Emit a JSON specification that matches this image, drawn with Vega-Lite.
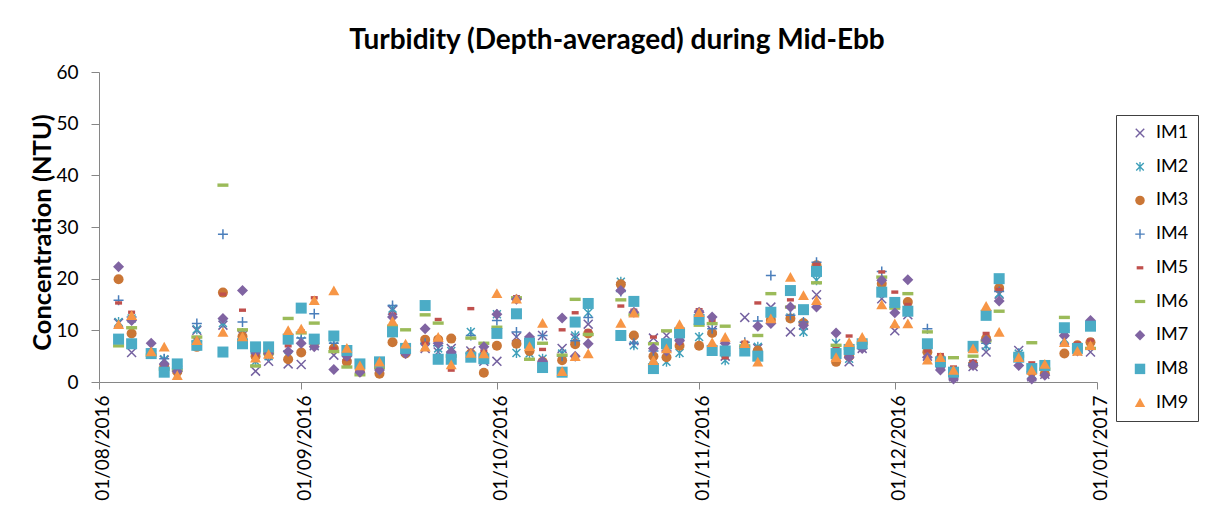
{
"$schema": "https://vega.github.io/schema/vega-lite/v6.json",
"width": 998, "height": 310,
"autosize": "none",
"padding": {"left": 99, "top": 72, "right": 128, "bottom": 127},
"background": "white",
"title": {"text": "Turbidity (Depth-averaged) during Mid-Ebb", "font": "Lato", "fontSize": 28, "fontWeight": "bold", "color": "#000000", "anchor": "middle", "frame": "group", "dx": 19, "dy": 41, "offset": 21, "baseline": "bottom"},
"config": {"view": {"stroke": null}, "font": "Lato"},
"data": {"values": [
{"date":"2016-08-04","site":"IM1","ntu":11.4},{"date":"2016-08-06","site":"IM1","ntu":5.7},{"date":"2016-08-09","site":"IM1","ntu":5.4},{"date":"2016-08-11","site":"IM1","ntu":4.2},{"date":"2016-08-13","site":"IM1","ntu":2.5},{"date":"2016-08-16","site":"IM1","ntu":10.0},{"date":"2016-08-20","site":"IM1","ntu":11.0},{"date":"2016-08-23","site":"IM1","ntu":9.0},{"date":"2016-08-25","site":"IM1","ntu":2.1},{"date":"2016-08-27","site":"IM1","ntu":4.0},{"date":"2016-08-30","site":"IM1","ntu":3.5},{"date":"2016-09-01","site":"IM1","ntu":3.4},{"date":"2016-09-03","site":"IM1","ntu":7.0},{"date":"2016-09-06","site":"IM1","ntu":5.2},{"date":"2016-09-08","site":"IM1","ntu":5.0},{"date":"2016-09-10","site":"IM1","ntu":2.5},{"date":"2016-09-13","site":"IM1","ntu":2.5},{"date":"2016-09-15","site":"IM1","ntu":13.9},{"date":"2016-09-17","site":"IM1","ntu":6.0},{"date":"2016-09-20","site":"IM1","ntu":6.5},{"date":"2016-09-22","site":"IM1","ntu":5.8},{"date":"2016-09-24","site":"IM1","ntu":6.5},{"date":"2016-09-27","site":"IM1","ntu":6.0},{"date":"2016-09-29","site":"IM1","ntu":4.0},{"date":"2016-10-01","site":"IM1","ntu":4.0},{"date":"2016-10-04","site":"IM1","ntu":8.7},{"date":"2016-10-06","site":"IM1","ntu":8.0},{"date":"2016-10-08","site":"IM1","ntu":9.0},{"date":"2016-10-11","site":"IM1","ntu":6.5},{"date":"2016-10-13","site":"IM1","ntu":8.5},{"date":"2016-10-15","site":"IM1","ntu":11.2},{"date":"2016-10-20","site":"IM1","ntu":18.5},{"date":"2016-10-22","site":"IM1","ntu":8.0},{"date":"2016-10-25","site":"IM1","ntu":8.5},{"date":"2016-10-27","site":"IM1","ntu":9.0},{"date":"2016-10-29","site":"IM1","ntu":9.0},{"date":"2016-11-01","site":"IM1","ntu":13.0},{"date":"2016-11-03","site":"IM1","ntu":10.0},{"date":"2016-11-05","site":"IM1","ntu":5.0},{"date":"2016-11-08","site":"IM1","ntu":12.5},{"date":"2016-11-10","site":"IM1","ntu":6.5},{"date":"2016-11-12","site":"IM1","ntu":14.5},{"date":"2016-11-15","site":"IM1","ntu":9.7},{"date":"2016-11-17","site":"IM1","ntu":11.0},{"date":"2016-11-19","site":"IM1","ntu":16.9},{"date":"2016-11-22","site":"IM1","ntu":5.5},{"date":"2016-11-24","site":"IM1","ntu":3.9},{"date":"2016-11-26","site":"IM1","ntu":6.5},{"date":"2016-11-29","site":"IM1","ntu":16.1},{"date":"2016-12-01","site":"IM1","ntu":9.9},{"date":"2016-12-03","site":"IM1","ntu":13.0},{"date":"2016-12-06","site":"IM1","ntu":5.0},{"date":"2016-12-08","site":"IM1","ntu":3.5},{"date":"2016-12-10","site":"IM1","ntu":1.0},{"date":"2016-12-13","site":"IM1","ntu":3.0},{"date":"2016-12-15","site":"IM1","ntu":5.8},{"date":"2016-12-17","site":"IM1","ntu":17.0},{"date":"2016-12-20","site":"IM1","ntu":6.1},{"date":"2016-12-22","site":"IM1","ntu":1.0},{"date":"2016-12-24","site":"IM1","ntu":1.5},{"date":"2016-12-27","site":"IM1","ntu":8.1},{"date":"2016-12-29","site":"IM1","ntu":6.0},{"date":"2016-12-31","site":"IM1","ntu":5.8},
{"date":"2016-08-04","site":"IM2","ntu":11.6},{"date":"2016-08-06","site":"IM2","ntu":12.3},{"date":"2016-08-09","site":"IM2","ntu":5.6},{"date":"2016-08-11","site":"IM2","ntu":4.4},{"date":"2016-08-13","site":"IM2","ntu":3.0},{"date":"2016-08-16","site":"IM2","ntu":10.2},{"date":"2016-08-20","site":"IM2","ntu":11.4},{"date":"2016-08-23","site":"IM2","ntu":9.5},{"date":"2016-08-25","site":"IM2","ntu":4.0},{"date":"2016-08-27","site":"IM2","ntu":5.0},{"date":"2016-08-30","site":"IM2","ntu":5.0},{"date":"2016-09-01","site":"IM2","ntu":8.0},{"date":"2016-09-03","site":"IM2","ntu":7.2},{"date":"2016-09-06","site":"IM2","ntu":7.0},{"date":"2016-09-08","site":"IM2","ntu":5.5},{"date":"2016-09-10","site":"IM2","ntu":3.0},{"date":"2016-09-13","site":"IM2","ntu":3.0},{"date":"2016-09-15","site":"IM2","ntu":14.2},{"date":"2016-09-17","site":"IM2","ntu":6.5},{"date":"2016-09-20","site":"IM2","ntu":7.0},{"date":"2016-09-22","site":"IM2","ntu":6.5},{"date":"2016-09-24","site":"IM2","ntu":6.0},{"date":"2016-09-27","site":"IM2","ntu":9.7},{"date":"2016-09-29","site":"IM2","ntu":5.0},{"date":"2016-10-01","site":"IM2","ntu":13.1},{"date":"2016-10-04","site":"IM2","ntu":5.6},{"date":"2016-10-06","site":"IM2","ntu":5.5},{"date":"2016-10-08","site":"IM2","ntu":4.5},{"date":"2016-10-11","site":"IM2","ntu":5.5},{"date":"2016-10-13","site":"IM2","ntu":9.0},{"date":"2016-10-15","site":"IM2","ntu":13.4},{"date":"2016-10-20","site":"IM2","ntu":19.4},{"date":"2016-10-22","site":"IM2","ntu":7.1},{"date":"2016-10-25","site":"IM2","ntu":4.5},{"date":"2016-10-27","site":"IM2","ntu":3.9},{"date":"2016-10-29","site":"IM2","ntu":5.6},{"date":"2016-11-01","site":"IM2","ntu":8.7},{"date":"2016-11-03","site":"IM2","ntu":6.5},{"date":"2016-11-05","site":"IM2","ntu":4.2},{"date":"2016-11-08","site":"IM2","ntu":7.0},{"date":"2016-11-10","site":"IM2","ntu":6.8},{"date":"2016-11-12","site":"IM2","ntu":13.0},{"date":"2016-11-15","site":"IM2","ntu":12.5},{"date":"2016-11-17","site":"IM2","ntu":9.7},{"date":"2016-11-19","site":"IM2","ntu":19.7},{"date":"2016-11-22","site":"IM2","ntu":7.5},{"date":"2016-11-24","site":"IM2","ntu":4.5},{"date":"2016-11-26","site":"IM2","ntu":7.0},{"date":"2016-11-29","site":"IM2","ntu":18.0},{"date":"2016-12-01","site":"IM2","ntu":15.0},{"date":"2016-12-03","site":"IM2","ntu":14.0},{"date":"2016-12-06","site":"IM2","ntu":5.5},{"date":"2016-12-08","site":"IM2","ntu":4.0},{"date":"2016-12-10","site":"IM2","ntu":1.5},{"date":"2016-12-13","site":"IM2","ntu":3.5},{"date":"2016-12-15","site":"IM2","ntu":7.0},{"date":"2016-12-17","site":"IM2","ntu":17.1},{"date":"2016-12-20","site":"IM2","ntu":5.5},{"date":"2016-12-22","site":"IM2","ntu":1.5},{"date":"2016-12-24","site":"IM2","ntu":2.0},{"date":"2016-12-27","site":"IM2","ntu":8.3},{"date":"2016-12-29","site":"IM2","ntu":6.5},{"date":"2016-12-31","site":"IM2","ntu":11.0},
{"date":"2016-08-04","site":"IM3","ntu":19.9},{"date":"2016-08-06","site":"IM3","ntu":9.4},{"date":"2016-08-09","site":"IM3","ntu":5.5},{"date":"2016-08-11","site":"IM3","ntu":3.0},{"date":"2016-08-13","site":"IM3","ntu":2.0},{"date":"2016-08-16","site":"IM3","ntu":6.8},{"date":"2016-08-20","site":"IM3","ntu":17.3},{"date":"2016-08-23","site":"IM3","ntu":8.8},{"date":"2016-08-25","site":"IM3","ntu":5.0},{"date":"2016-08-27","site":"IM3","ntu":5.5},{"date":"2016-08-30","site":"IM3","ntu":4.4},{"date":"2016-09-01","site":"IM3","ntu":5.7},{"date":"2016-09-03","site":"IM3","ntu":7.5},{"date":"2016-09-06","site":"IM3","ntu":6.5},{"date":"2016-09-08","site":"IM3","ntu":3.9},{"date":"2016-09-10","site":"IM3","ntu":2.0},{"date":"2016-09-13","site":"IM3","ntu":1.6},{"date":"2016-09-15","site":"IM3","ntu":7.7},{"date":"2016-09-17","site":"IM3","ntu":5.5},{"date":"2016-09-20","site":"IM3","ntu":8.2},{"date":"2016-09-22","site":"IM3","ntu":8.2},{"date":"2016-09-24","site":"IM3","ntu":8.4},{"date":"2016-09-27","site":"IM3","ntu":5.5},{"date":"2016-09-29","site":"IM3","ntu":1.8},{"date":"2016-10-01","site":"IM3","ntu":7.0},{"date":"2016-10-04","site":"IM3","ntu":7.4},{"date":"2016-10-06","site":"IM3","ntu":6.0},{"date":"2016-10-08","site":"IM3","ntu":3.9},{"date":"2016-10-11","site":"IM3","ntu":4.2},{"date":"2016-10-13","site":"IM3","ntu":7.3},{"date":"2016-10-15","site":"IM3","ntu":9.4},{"date":"2016-10-20","site":"IM3","ntu":18.9},{"date":"2016-10-22","site":"IM3","ntu":9.0},{"date":"2016-10-25","site":"IM3","ntu":5.0},{"date":"2016-10-27","site":"IM3","ntu":4.8},{"date":"2016-10-29","site":"IM3","ntu":7.0},{"date":"2016-11-01","site":"IM3","ntu":7.0},{"date":"2016-11-03","site":"IM3","ntu":9.5},{"date":"2016-11-05","site":"IM3","ntu":6.0},{"date":"2016-11-08","site":"IM3","ntu":6.5},{"date":"2016-11-10","site":"IM3","ntu":6.1},{"date":"2016-11-12","site":"IM3","ntu":12.0},{"date":"2016-11-15","site":"IM3","ntu":12.3},{"date":"2016-11-17","site":"IM3","ntu":11.4},{"date":"2016-11-19","site":"IM3","ntu":22.6},{"date":"2016-11-22","site":"IM3","ntu":3.9},{"date":"2016-11-24","site":"IM3","ntu":5.0},{"date":"2016-11-26","site":"IM3","ntu":7.0},{"date":"2016-11-29","site":"IM3","ntu":19.0},{"date":"2016-12-01","site":"IM3","ntu":15.0},{"date":"2016-12-03","site":"IM3","ntu":15.5},{"date":"2016-12-06","site":"IM3","ntu":5.8},{"date":"2016-12-08","site":"IM3","ntu":4.5},{"date":"2016-12-10","site":"IM3","ntu":1.2},{"date":"2016-12-13","site":"IM3","ntu":3.4},{"date":"2016-12-15","site":"IM3","ntu":8.4},{"date":"2016-12-17","site":"IM3","ntu":18.2},{"date":"2016-12-20","site":"IM3","ntu":5.0},{"date":"2016-12-22","site":"IM3","ntu":2.0},{"date":"2016-12-24","site":"IM3","ntu":1.6},{"date":"2016-12-27","site":"IM3","ntu":5.5},{"date":"2016-12-29","site":"IM3","ntu":7.1},{"date":"2016-12-31","site":"IM3","ntu":7.7},
{"date":"2016-08-04","site":"IM4","ntu":15.8},{"date":"2016-08-06","site":"IM4","ntu":12.6},{"date":"2016-08-09","site":"IM4","ntu":6.0},{"date":"2016-08-11","site":"IM4","ntu":4.5},{"date":"2016-08-13","site":"IM4","ntu":3.0},{"date":"2016-08-16","site":"IM4","ntu":11.3},{"date":"2016-08-20","site":"IM4","ntu":28.6},{"date":"2016-08-23","site":"IM4","ntu":11.6},{"date":"2016-08-25","site":"IM4","ntu":5.5},{"date":"2016-08-27","site":"IM4","ntu":6.0},{"date":"2016-08-30","site":"IM4","ntu":6.0},{"date":"2016-09-01","site":"IM4","ntu":8.5},{"date":"2016-09-03","site":"IM4","ntu":13.2},{"date":"2016-09-06","site":"IM4","ntu":7.5},{"date":"2016-09-08","site":"IM4","ntu":5.5},{"date":"2016-09-10","site":"IM4","ntu":3.0},{"date":"2016-09-13","site":"IM4","ntu":3.0},{"date":"2016-09-15","site":"IM4","ntu":14.8},{"date":"2016-09-17","site":"IM4","ntu":6.5},{"date":"2016-09-20","site":"IM4","ntu":7.5},{"date":"2016-09-22","site":"IM4","ntu":7.0},{"date":"2016-09-24","site":"IM4","ntu":5.5},{"date":"2016-09-27","site":"IM4","ntu":9.0},{"date":"2016-09-29","site":"IM4","ntu":5.0},{"date":"2016-10-01","site":"IM4","ntu":11.9},{"date":"2016-10-04","site":"IM4","ntu":9.7},{"date":"2016-10-06","site":"IM4","ntu":7.0},{"date":"2016-10-08","site":"IM4","ntu":9.0},{"date":"2016-10-11","site":"IM4","ntu":5.0},{"date":"2016-10-13","site":"IM4","ntu":8.0},{"date":"2016-10-15","site":"IM4","ntu":12.5},{"date":"2016-10-20","site":"IM4","ntu":17.5},{"date":"2016-10-22","site":"IM4","ntu":7.5},{"date":"2016-10-25","site":"IM4","ntu":6.0},{"date":"2016-10-27","site":"IM4","ntu":7.0},{"date":"2016-10-29","site":"IM4","ntu":9.0},{"date":"2016-11-01","site":"IM4","ntu":12.5},{"date":"2016-11-03","site":"IM4","ntu":10.3},{"date":"2016-11-05","site":"IM4","ntu":5.5},{"date":"2016-11-08","site":"IM4","ntu":7.7},{"date":"2016-11-10","site":"IM4","ntu":11.8},{"date":"2016-11-12","site":"IM4","ntu":20.6},{"date":"2016-11-15","site":"IM4","ntu":12.9},{"date":"2016-11-17","site":"IM4","ntu":11.6},{"date":"2016-11-19","site":"IM4","ntu":23.2},{"date":"2016-11-22","site":"IM4","ntu":7.0},{"date":"2016-11-24","site":"IM4","ntu":5.5},{"date":"2016-11-26","site":"IM4","ntu":7.5},{"date":"2016-11-29","site":"IM4","ntu":21.4},{"date":"2016-12-01","site":"IM4","ntu":15.0},{"date":"2016-12-03","site":"IM4","ntu":14.0},{"date":"2016-12-06","site":"IM4","ntu":10.3},{"date":"2016-12-08","site":"IM4","ntu":4.5},{"date":"2016-12-10","site":"IM4","ntu":2.0},{"date":"2016-12-13","site":"IM4","ntu":3.5},{"date":"2016-12-15","site":"IM4","ntu":7.5},{"date":"2016-12-17","site":"IM4","ntu":17.5},{"date":"2016-12-20","site":"IM4","ntu":5.5},{"date":"2016-12-22","site":"IM4","ntu":2.0},{"date":"2016-12-24","site":"IM4","ntu":2.5},{"date":"2016-12-27","site":"IM4","ntu":10.0},{"date":"2016-12-29","site":"IM4","ntu":6.5},{"date":"2016-12-31","site":"IM4","ntu":11.5},
{"date":"2016-08-04","site":"IM5","ntu":15.3},{"date":"2016-08-06","site":"IM5","ntu":13.5},{"date":"2016-08-09","site":"IM5","ntu":6.2},{"date":"2016-08-11","site":"IM5","ntu":2.9},{"date":"2016-08-13","site":"IM5","ntu":2.6},{"date":"2016-08-16","site":"IM5","ntu":8.6},{"date":"2016-08-20","site":"IM5","ntu":17.0},{"date":"2016-08-23","site":"IM5","ntu":13.9},{"date":"2016-08-25","site":"IM5","ntu":5.2},{"date":"2016-08-27","site":"IM5","ntu":6.0},{"date":"2016-08-30","site":"IM5","ntu":7.0},{"date":"2016-09-01","site":"IM5","ntu":9.9},{"date":"2016-09-03","site":"IM5","ntu":16.3},{"date":"2016-09-06","site":"IM5","ntu":6.5},{"date":"2016-09-08","site":"IM5","ntu":4.4},{"date":"2016-09-10","site":"IM5","ntu":2.5},{"date":"2016-09-13","site":"IM5","ntu":2.5},{"date":"2016-09-15","site":"IM5","ntu":13.1},{"date":"2016-09-17","site":"IM5","ntu":6.5},{"date":"2016-09-20","site":"IM5","ntu":7.5},{"date":"2016-09-22","site":"IM5","ntu":12.1},{"date":"2016-09-24","site":"IM5","ntu":2.3},{"date":"2016-09-27","site":"IM5","ntu":14.2},{"date":"2016-09-29","site":"IM5","ntu":6.0},{"date":"2016-10-01","site":"IM5","ntu":10.0},{"date":"2016-10-04","site":"IM5","ntu":16.5},{"date":"2016-10-06","site":"IM5","ntu":7.5},{"date":"2016-10-08","site":"IM5","ntu":6.3},{"date":"2016-10-11","site":"IM5","ntu":10.1},{"date":"2016-10-13","site":"IM5","ntu":13.4},{"date":"2016-10-15","site":"IM5","ntu":9.9},{"date":"2016-10-20","site":"IM5","ntu":14.7},{"date":"2016-10-22","site":"IM5","ntu":13.9},{"date":"2016-10-25","site":"IM5","ntu":8.7},{"date":"2016-10-27","site":"IM5","ntu":6.5},{"date":"2016-10-29","site":"IM5","ntu":7.5},{"date":"2016-11-01","site":"IM5","ntu":14.0},{"date":"2016-11-03","site":"IM5","ntu":11.9},{"date":"2016-11-05","site":"IM5","ntu":4.7},{"date":"2016-11-08","site":"IM5","ntu":7.7},{"date":"2016-11-10","site":"IM5","ntu":15.3},{"date":"2016-11-12","site":"IM5","ntu":13.0},{"date":"2016-11-15","site":"IM5","ntu":15.9},{"date":"2016-11-17","site":"IM5","ntu":13.5},{"date":"2016-11-19","site":"IM5","ntu":22.8},{"date":"2016-11-22","site":"IM5","ntu":6.5},{"date":"2016-11-24","site":"IM5","ntu":8.9},{"date":"2016-11-26","site":"IM5","ntu":7.5},{"date":"2016-11-29","site":"IM5","ntu":21.3},{"date":"2016-12-01","site":"IM5","ntu":17.4},{"date":"2016-12-03","site":"IM5","ntu":15.0},{"date":"2016-12-06","site":"IM5","ntu":6.0},{"date":"2016-12-08","site":"IM5","ntu":5.3},{"date":"2016-12-10","site":"IM5","ntu":2.9},{"date":"2016-12-13","site":"IM5","ntu":4.0},{"date":"2016-12-15","site":"IM5","ntu":9.4},{"date":"2016-12-17","site":"IM5","ntu":17.9},{"date":"2016-12-20","site":"IM5","ntu":5.5},{"date":"2016-12-22","site":"IM5","ntu":3.7},{"date":"2016-12-24","site":"IM5","ntu":3.0},{"date":"2016-12-27","site":"IM5","ntu":9.2},{"date":"2016-12-29","site":"IM5","ntu":7.5},{"date":"2016-12-31","site":"IM5","ntu":8.1},
{"date":"2016-08-04","site":"IM6","ntu":7.0},{"date":"2016-08-06","site":"IM6","ntu":10.5},{"date":"2016-08-09","site":"IM6","ntu":5.2},{"date":"2016-08-11","site":"IM6","ntu":2.5},{"date":"2016-08-13","site":"IM6","ntu":2.3},{"date":"2016-08-16","site":"IM6","ntu":8.7},{"date":"2016-08-20","site":"IM6","ntu":38.1},{"date":"2016-08-23","site":"IM6","ntu":10.1},{"date":"2016-08-25","site":"IM6","ntu":3.1},{"date":"2016-08-27","site":"IM6","ntu":5.5},{"date":"2016-08-30","site":"IM6","ntu":12.3},{"date":"2016-09-01","site":"IM6","ntu":9.5},{"date":"2016-09-03","site":"IM6","ntu":11.4},{"date":"2016-09-06","site":"IM6","ntu":5.9},{"date":"2016-09-08","site":"IM6","ntu":2.9},{"date":"2016-09-10","site":"IM6","ntu":1.4},{"date":"2016-09-13","site":"IM6","ntu":2.8},{"date":"2016-09-15","site":"IM6","ntu":10.8},{"date":"2016-09-17","site":"IM6","ntu":10.1},{"date":"2016-09-20","site":"IM6","ntu":13.0},{"date":"2016-09-22","site":"IM6","ntu":11.4},{"date":"2016-09-24","site":"IM6","ntu":5.0},{"date":"2016-09-27","site":"IM6","ntu":8.5},{"date":"2016-09-29","site":"IM6","ntu":7.5},{"date":"2016-10-01","site":"IM6","ntu":10.6},{"date":"2016-10-04","site":"IM6","ntu":16.3},{"date":"2016-10-06","site":"IM6","ntu":4.4},{"date":"2016-10-08","site":"IM6","ntu":7.5},{"date":"2016-10-11","site":"IM6","ntu":5.2},{"date":"2016-10-13","site":"IM6","ntu":16.0},{"date":"2016-10-15","site":"IM6","ntu":9.2},{"date":"2016-10-20","site":"IM6","ntu":15.9},{"date":"2016-10-22","site":"IM6","ntu":13.0},{"date":"2016-10-25","site":"IM6","ntu":7.4},{"date":"2016-10-27","site":"IM6","ntu":9.9},{"date":"2016-10-29","site":"IM6","ntu":10.0},{"date":"2016-11-01","site":"IM6","ntu":11.0},{"date":"2016-11-03","site":"IM6","ntu":11.3},{"date":"2016-11-05","site":"IM6","ntu":10.8},{"date":"2016-11-08","site":"IM6","ntu":7.0},{"date":"2016-11-10","site":"IM6","ntu":9.0},{"date":"2016-11-12","site":"IM6","ntu":17.1},{"date":"2016-11-15","site":"IM6","ntu":14.5},{"date":"2016-11-17","site":"IM6","ntu":14.0},{"date":"2016-11-19","site":"IM6","ntu":19.2},{"date":"2016-11-22","site":"IM6","ntu":7.1},{"date":"2016-11-24","site":"IM6","ntu":6.5},{"date":"2016-11-26","site":"IM6","ntu":7.5},{"date":"2016-11-29","site":"IM6","ntu":20.3},{"date":"2016-12-01","site":"IM6","ntu":14.3},{"date":"2016-12-03","site":"IM6","ntu":17.1},{"date":"2016-12-06","site":"IM6","ntu":9.7},{"date":"2016-12-08","site":"IM6","ntu":4.0},{"date":"2016-12-10","site":"IM6","ntu":4.7},{"date":"2016-12-13","site":"IM6","ntu":5.0},{"date":"2016-12-15","site":"IM6","ntu":8.0},{"date":"2016-12-17","site":"IM6","ntu":13.7},{"date":"2016-12-20","site":"IM6","ntu":5.0},{"date":"2016-12-22","site":"IM6","ntu":7.6},{"date":"2016-12-24","site":"IM6","ntu":2.5},{"date":"2016-12-27","site":"IM6","ntu":12.5},{"date":"2016-12-29","site":"IM6","ntu":6.5},{"date":"2016-12-31","site":"IM6","ntu":6.5},
{"date":"2016-08-04","site":"IM7","ntu":22.3},{"date":"2016-08-06","site":"IM7","ntu":11.9},{"date":"2016-08-09","site":"IM7","ntu":7.5},{"date":"2016-08-11","site":"IM7","ntu":3.5},{"date":"2016-08-13","site":"IM7","ntu":2.1},{"date":"2016-08-16","site":"IM7","ntu":7.8},{"date":"2016-08-20","site":"IM7","ntu":12.3},{"date":"2016-08-23","site":"IM7","ntu":17.7},{"date":"2016-08-25","site":"IM7","ntu":5.8},{"date":"2016-08-27","site":"IM7","ntu":5.5},{"date":"2016-08-30","site":"IM7","ntu":5.9},{"date":"2016-09-01","site":"IM7","ntu":7.5},{"date":"2016-09-03","site":"IM7","ntu":6.8},{"date":"2016-09-06","site":"IM7","ntu":2.4},{"date":"2016-09-08","site":"IM7","ntu":5.0},{"date":"2016-09-10","site":"IM7","ntu":1.9},{"date":"2016-09-13","site":"IM7","ntu":2.3},{"date":"2016-09-15","site":"IM7","ntu":12.6},{"date":"2016-09-17","site":"IM7","ntu":5.5},{"date":"2016-09-20","site":"IM7","ntu":10.3},{"date":"2016-09-22","site":"IM7","ntu":7.5},{"date":"2016-09-24","site":"IM7","ntu":5.8},{"date":"2016-09-27","site":"IM7","ntu":5.5},{"date":"2016-09-29","site":"IM7","ntu":6.8},{"date":"2016-10-01","site":"IM7","ntu":13.1},{"date":"2016-10-04","site":"IM7","ntu":16.0},{"date":"2016-10-06","site":"IM7","ntu":8.7},{"date":"2016-10-08","site":"IM7","ntu":4.0},{"date":"2016-10-11","site":"IM7","ntu":12.4},{"date":"2016-10-13","site":"IM7","ntu":5.0},{"date":"2016-10-15","site":"IM7","ntu":7.4},{"date":"2016-10-20","site":"IM7","ntu":17.7},{"date":"2016-10-22","site":"IM7","ntu":13.5},{"date":"2016-10-25","site":"IM7","ntu":6.5},{"date":"2016-10-27","site":"IM7","ntu":6.0},{"date":"2016-10-29","site":"IM7","ntu":8.0},{"date":"2016-11-01","site":"IM7","ntu":13.5},{"date":"2016-11-03","site":"IM7","ntu":12.6},{"date":"2016-11-05","site":"IM7","ntu":7.5},{"date":"2016-11-08","site":"IM7","ntu":6.5},{"date":"2016-11-10","site":"IM7","ntu":10.8},{"date":"2016-11-12","site":"IM7","ntu":11.3},{"date":"2016-11-15","site":"IM7","ntu":14.5},{"date":"2016-11-17","site":"IM7","ntu":11.0},{"date":"2016-11-19","site":"IM7","ntu":14.5},{"date":"2016-11-22","site":"IM7","ntu":9.5},{"date":"2016-11-24","site":"IM7","ntu":4.8},{"date":"2016-11-26","site":"IM7","ntu":6.5},{"date":"2016-11-29","site":"IM7","ntu":19.7},{"date":"2016-12-01","site":"IM7","ntu":13.4},{"date":"2016-12-03","site":"IM7","ntu":19.8},{"date":"2016-12-06","site":"IM7","ntu":4.8},{"date":"2016-12-08","site":"IM7","ntu":2.3},{"date":"2016-12-10","site":"IM7","ntu":0.6},{"date":"2016-12-13","site":"IM7","ntu":3.2},{"date":"2016-12-15","site":"IM7","ntu":8.1},{"date":"2016-12-17","site":"IM7","ntu":15.7},{"date":"2016-12-20","site":"IM7","ntu":3.2},{"date":"2016-12-22","site":"IM7","ntu":0.6},{"date":"2016-12-24","site":"IM7","ntu":1.3},{"date":"2016-12-27","site":"IM7","ntu":9.0},{"date":"2016-12-29","site":"IM7","ntu":6.0},{"date":"2016-12-31","site":"IM7","ntu":11.9},
{"date":"2016-08-04","site":"IM8","ntu":8.3},{"date":"2016-08-06","site":"IM8","ntu":7.4},{"date":"2016-08-09","site":"IM8","ntu":5.5},{"date":"2016-08-11","site":"IM8","ntu":1.9},{"date":"2016-08-13","site":"IM8","ntu":3.5},{"date":"2016-08-16","site":"IM8","ntu":7.1},{"date":"2016-08-20","site":"IM8","ntu":5.8},{"date":"2016-08-23","site":"IM8","ntu":7.4},{"date":"2016-08-25","site":"IM8","ntu":6.8},{"date":"2016-08-27","site":"IM8","ntu":6.8},{"date":"2016-08-30","site":"IM8","ntu":8.3},{"date":"2016-09-01","site":"IM8","ntu":14.3},{"date":"2016-09-03","site":"IM8","ntu":8.3},{"date":"2016-09-06","site":"IM8","ntu":8.9},{"date":"2016-09-08","site":"IM8","ntu":6.1},{"date":"2016-09-10","site":"IM8","ntu":3.5},{"date":"2016-09-13","site":"IM8","ntu":3.9},{"date":"2016-09-15","site":"IM8","ntu":9.7},{"date":"2016-09-17","site":"IM8","ntu":6.5},{"date":"2016-09-20","site":"IM8","ntu":14.8},{"date":"2016-09-22","site":"IM8","ntu":4.4},{"date":"2016-09-24","site":"IM8","ntu":4.4},{"date":"2016-09-27","site":"IM8","ntu":4.8},{"date":"2016-09-29","site":"IM8","ntu":4.5},{"date":"2016-10-01","site":"IM8","ntu":9.4},{"date":"2016-10-04","site":"IM8","ntu":13.2},{"date":"2016-10-06","site":"IM8","ntu":7.5},{"date":"2016-10-08","site":"IM8","ntu":2.8},{"date":"2016-10-11","site":"IM8","ntu":1.9},{"date":"2016-10-13","site":"IM8","ntu":11.6},{"date":"2016-10-15","site":"IM8","ntu":15.2},{"date":"2016-10-20","site":"IM8","ntu":9.0},{"date":"2016-10-22","site":"IM8","ntu":15.6},{"date":"2016-10-25","site":"IM8","ntu":2.6},{"date":"2016-10-27","site":"IM8","ntu":7.4},{"date":"2016-10-29","site":"IM8","ntu":9.5},{"date":"2016-11-01","site":"IM8","ntu":12.1},{"date":"2016-11-03","site":"IM8","ntu":6.1},{"date":"2016-11-05","site":"IM8","ntu":6.0},{"date":"2016-11-08","site":"IM8","ntu":6.0},{"date":"2016-11-10","site":"IM8","ntu":5.0},{"date":"2016-11-12","site":"IM8","ntu":13.5},{"date":"2016-11-15","site":"IM8","ntu":17.7},{"date":"2016-11-17","site":"IM8","ntu":14.0},{"date":"2016-11-19","site":"IM8","ntu":21.4},{"date":"2016-11-22","site":"IM8","ntu":5.5},{"date":"2016-11-24","site":"IM8","ntu":6.3},{"date":"2016-11-26","site":"IM8","ntu":7.4},{"date":"2016-11-29","site":"IM8","ntu":17.4},{"date":"2016-12-01","site":"IM8","ntu":15.4},{"date":"2016-12-03","site":"IM8","ntu":13.7},{"date":"2016-12-06","site":"IM8","ntu":7.4},{"date":"2016-12-08","site":"IM8","ntu":3.9},{"date":"2016-12-10","site":"IM8","ntu":1.9},{"date":"2016-12-13","site":"IM8","ntu":6.9},{"date":"2016-12-15","site":"IM8","ntu":12.9},{"date":"2016-12-17","site":"IM8","ntu":20.0},{"date":"2016-12-20","site":"IM8","ntu":4.8},{"date":"2016-12-22","site":"IM8","ntu":2.6},{"date":"2016-12-24","site":"IM8","ntu":3.2},{"date":"2016-12-27","site":"IM8","ntu":10.5},{"date":"2016-12-29","site":"IM8","ntu":6.5},{"date":"2016-12-31","site":"IM8","ntu":10.8},
{"date":"2016-08-04","site":"IM9","ntu":11.2},{"date":"2016-08-06","site":"IM9","ntu":12.9},{"date":"2016-08-09","site":"IM9","ntu":5.9},{"date":"2016-08-11","site":"IM9","ntu":6.8},{"date":"2016-08-13","site":"IM9","ntu":1.3},{"date":"2016-08-16","site":"IM9","ntu":8.1},{"date":"2016-08-20","site":"IM9","ntu":9.7},{"date":"2016-08-23","site":"IM9","ntu":8.8},{"date":"2016-08-25","site":"IM9","ntu":4.7},{"date":"2016-08-27","site":"IM9","ntu":5.4},{"date":"2016-08-30","site":"IM9","ntu":10.0},{"date":"2016-09-01","site":"IM9","ntu":10.3},{"date":"2016-09-03","site":"IM9","ntu":15.8},{"date":"2016-09-06","site":"IM9","ntu":17.7},{"date":"2016-09-08","site":"IM9","ntu":6.6},{"date":"2016-09-10","site":"IM9","ntu":3.2},{"date":"2016-09-13","site":"IM9","ntu":3.9},{"date":"2016-09-15","site":"IM9","ntu":11.8},{"date":"2016-09-17","site":"IM9","ntu":7.4},{"date":"2016-09-20","site":"IM9","ntu":6.8},{"date":"2016-09-22","site":"IM9","ntu":8.7},{"date":"2016-09-24","site":"IM9","ntu":3.4},{"date":"2016-09-27","site":"IM9","ntu":5.6},{"date":"2016-09-29","site":"IM9","ntu":5.5},{"date":"2016-10-01","site":"IM9","ntu":17.2},{"date":"2016-10-04","site":"IM9","ntu":16.1},{"date":"2016-10-06","site":"IM9","ntu":6.9},{"date":"2016-10-08","site":"IM9","ntu":11.4},{"date":"2016-10-11","site":"IM9","ntu":2.1},{"date":"2016-10-13","site":"IM9","ntu":5.0},{"date":"2016-10-15","site":"IM9","ntu":5.5},{"date":"2016-10-20","site":"IM9","ntu":11.4},{"date":"2016-10-22","site":"IM9","ntu":13.4},{"date":"2016-10-25","site":"IM9","ntu":4.2},{"date":"2016-10-27","site":"IM9","ntu":6.5},{"date":"2016-10-29","site":"IM9","ntu":11.2},{"date":"2016-11-01","site":"IM9","ntu":13.5},{"date":"2016-11-03","site":"IM9","ntu":7.7},{"date":"2016-11-05","site":"IM9","ntu":8.7},{"date":"2016-11-08","site":"IM9","ntu":7.5},{"date":"2016-11-10","site":"IM9","ntu":3.9},{"date":"2016-11-12","site":"IM9","ntu":12.3},{"date":"2016-11-15","site":"IM9","ntu":20.3},{"date":"2016-11-17","site":"IM9","ntu":16.8},{"date":"2016-11-19","site":"IM9","ntu":15.8},{"date":"2016-11-22","site":"IM9","ntu":4.8},{"date":"2016-11-24","site":"IM9","ntu":7.7},{"date":"2016-11-26","site":"IM9","ntu":8.7},{"date":"2016-11-29","site":"IM9","ntu":15.0},{"date":"2016-12-01","site":"IM9","ntu":11.3},{"date":"2016-12-03","site":"IM9","ntu":11.3},{"date":"2016-12-06","site":"IM9","ntu":4.3},{"date":"2016-12-08","site":"IM9","ntu":4.8},{"date":"2016-12-10","site":"IM9","ntu":2.3},{"date":"2016-12-13","site":"IM9","ntu":6.5},{"date":"2016-12-15","site":"IM9","ntu":14.7},{"date":"2016-12-17","site":"IM9","ntu":9.7},{"date":"2016-12-20","site":"IM9","ntu":4.8},{"date":"2016-12-22","site":"IM9","ntu":2.3},{"date":"2016-12-24","site":"IM9","ntu":3.5},{"date":"2016-12-27","site":"IM9","ntu":7.7},{"date":"2016-12-29","site":"IM9","ntu":6.0},{"date":"2016-12-31","site":"IM9","ntu":7.1}
]},
"mark": {"type": "point", "filled": true, "opacity": 1, "size": 100, "strokeWidth": 0},
"encoding": {
  "x": {"field": "date", "type": "temporal",
    "scale": {"type": "utc", "domain": [{"year": 2016, "month": 8, "date": 1, "utc": true}, {"year": 2017, "month": 1, "date": 1, "utc": true}]},
    "axis": {"title": null, "grid": false, "values": [{"year": 2016, "month": 8, "date": 1, "utc": true}, {"year": 2016, "month": 9, "date": 1, "utc": true}, {"year": 2016, "month": 10, "date": 1, "utc": true}, {"year": 2016, "month": 11, "date": 1, "utc": true}, {"year": 2016, "month": 12, "date": 1, "utc": true}, {"year": 2017, "month": 1, "date": 1, "utc": true}],
      "labelExpr": "utcFormat(datum.value, '%d/%m/%Y')", "labelAngle": -90, "labelFont": "Lato", "labelFontSize": 19, "labelColor": "#000000", "labelPadding": 6, "labelOffset": 3.5, "labelOverlap": false, "labelFlush": false, "labelBound": false,
      "tickSize": 7, "tickColor": "#868686", "domainColor": "#868686", "domainWidth": 1}},
  "y": {"field": "ntu", "type": "quantitative", "scale": {"domain": [0, 60], "nice": false},
    "axis": {"values": [0, 10, 20, 30, 40, 50, 60], "grid": false, "title": "Concentration (NTU)", "titleFont": "Lato", "titleFontSize": 25.5, "titleFontWeight": "bold", "titleColor": "#000000", "titleX": -49, "titleY": 160, "titleAngle": -90, "titleBaseline": "alphabetic", "titleAlign": "center",
      "labelFont": "Lato", "labelFontSize": 19, "labelColor": "#000000", "labelPadding": 13, "tickSize": 8, "tickColor": "#868686", "domainColor": "#868686", "domainWidth": 1, "labelFlush": false}},
  "color": {"field": "site", "type": "nominal",
    "scale": {"domain": ["IM1", "IM2", "IM3", "IM4", "IM5", "IM6", "IM7", "IM8", "IM9"], "range": ["#7461A0", "#3FA0BA", "#CA7636", "#4A7EBB", "#C0504D", "#9BBB59", "#8064A2", "#4BACC6", "#F79646"]},
    "legend": {"orient": "none", "legendX": 1017, "legendY": 43, "title": null, "strokeColor": "#404040", "fillColor": "white", "padding": 9, "symbolOffset": 6, "rowPadding": 15.7, "labelFont": "Lato", "labelFontSize": 18, "labelColor": "#000000", "labelOffset": 7, "symbolSize": 90,
      "encode": {"legend": {"update": {"strokeWidth": {"value": 1.5}}}}}},
  "shape": {"field": "site", "type": "nominal",
    "scale": {"domain": ["IM1", "IM2", "IM3", "IM4", "IM5", "IM6", "IM7", "IM8", "IM9"],
      "range": [
        "M-1,-0.79L-0.79,-1L1,0.79L0.79,1ZM-1,0.79L0.79,-1L1,-0.79L-0.79,1Z",
        "M-0.9,-0.69L-0.69,-0.9L0.9,0.69L0.69,0.9ZM-0.9,0.69L0.69,-0.9L0.9,-0.69L-0.69,0.9ZM-0.14,-1L0.14,-1L0.14,1L-0.14,1Z",
        "circle",
        "M-1,-0.15H-0.15V-1H0.15V-0.15H1V0.15H0.15V1H-0.15V0.15H-1Z",
        "M-0.7,-0.34H0.7V0.34H-0.7Z",
        "M-1.1,-0.34H1.1V0.34H-1.1Z",
        "M0,-1.1L1.1,0L0,1.1L-1.1,0Z",
        "M-1.1,-1.1H1.1V1.1H-1.1Z",
        "M0,-1L1.1,0.95H-1.1Z"
      ]}}
}
}
